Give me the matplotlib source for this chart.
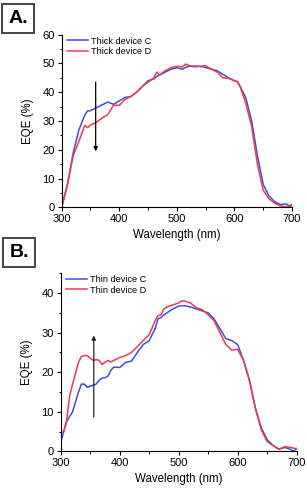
import matplotlib
matplotlib.use('Agg')
import matplotlib.pyplot as plt

plt.rcParams['font.family'] = ['Liberation Sans', 'DejaVu Sans']

# panel A: thick devices
wl_thick = [300, 310, 320, 330, 340, 345, 350, 360, 370, 380, 390, 400, 410, 420, 430,
            440, 450, 460, 465, 470, 480, 490, 500, 510, 515, 520, 530, 540, 550, 560,
            570, 580, 590, 600, 605, 610, 620, 630, 640, 650, 660, 670, 680, 690, 695, 700]
thick_c = [0, 8, 19, 27, 32, 33.5, 33.6, 34.6, 35.6, 36.6, 35.8, 37.0, 38.2, 38.5, 40.0,
           42.0, 44.0, 44.6, 45.5, 46.0, 47.0, 48.0, 48.5, 48.0, 48.6, 49.0, 49.1, 49.0, 48.6, 48.0,
           47.5, 46.2, 45.0, 44.0, 43.6, 42.0, 38.0, 30.0, 18.0, 8.0, 4.0, 2.0, 1.0, 1.2, 0.5, 1.0]
thick_d = [0, 8, 18, 23, 28.5, 27.7, 28.6, 29.5, 31.0, 32.2, 35.5, 35.4, 37.5, 38.5, 40.0,
           42.0, 43.5, 45.0, 47.0, 46.0, 47.5, 48.5, 49.0, 48.8, 49.8, 49.4, 48.8, 49.0, 49.2, 48.0,
           47.0, 45.0, 44.8, 44.0, 43.8, 42.0, 36.0, 28.0, 15.0, 6.0, 3.0, 1.5, 0.5, 0.2, 0.3, 0.5]

# panel B: thin devices
wl_thin = [300, 305, 310, 315, 320, 330, 335, 340, 345, 350, 355, 360, 365, 370, 375, 380,
           385, 390, 400, 410, 420, 430, 440, 450, 460, 465, 470, 475, 480, 490, 500, 505,
           510, 520, 530, 540, 550, 560, 570, 580, 590, 600, 610, 620, 630, 640, 650, 660,
           670, 680, 690, 695, 700]
thin_c = [2.5, 5.0, 7.5, 8.8, 10.0, 15.0, 17.0, 17.0, 16.2, 16.5, 16.7, 17.0, 18.0, 18.5, 18.6, 19.0,
          20.5, 21.3, 21.2, 22.5, 22.8, 25.0, 27.0, 28.0, 31.0, 33.5, 33.8, 34.5, 35.0, 36.0, 36.7, 36.8,
          36.8, 36.5, 36.0, 35.5, 35.0, 33.5, 31.0, 28.5, 28.0, 27.0, 23.0, 18.0, 11.0, 6.0, 3.0, 1.5,
          0.6, 1.0, 0.5, 0.0, 0.7]
thin_d = [5.0, 5.0, 8.0, 14.0, 17.0, 22.5, 24.0, 24.2, 24.2, 23.5, 23.0, 23.2, 23.0, 22.0, 22.5, 23.0,
          22.6, 23.0, 23.7, 24.2, 25.0, 26.5, 28.0, 29.5, 33.0, 34.3, 34.5, 36.0, 36.5, 37.0, 37.5, 38.0,
          38.0, 37.5, 36.3, 35.8, 34.5, 33.0, 30.0, 27.0, 25.6, 25.8, 23.0, 18.0, 11.0, 5.5, 2.5, 1.5,
          0.5, 1.2, 1.0, 0.8, 0.7]

blue = '#3b4fdc'
red = '#ee3a52'

fig = plt.figure(figsize=(3.07, 4.88), dpi=100)
ax1 = fig.add_axes([0.201, 0.575, 0.750, 0.354])
ax2 = fig.add_axes([0.198, 0.075, 0.768, 0.365])


def style_axis(ax, ymax, ymajor):
    ax.set_xlim(300, 700)
    ax.set_ylim(0, ymax)
    ax.set_xticks(range(300, 701, 100))
    ax.set_xticks(range(300, 701, 50), minor=True)
    ax.set_yticks(range(0, int(ymax) + 1, ymajor))
    ax.set_yticks(range(0, int(ymax) + 1, ymajor // 2), minor=True)
    ax.spines['top'].set_visible(False)
    ax.spines['right'].set_visible(False)
    for s in ('left', 'bottom'):
        ax.spines[s].set_linewidth(0.8)
    ax.tick_params(which='major', length=3, width=0.8, labelsize=8, pad=2)
    ax.tick_params(which='minor', length=1.8, width=0.7)
    ax.set_xlabel('Wavelength (nm)', fontsize=8.3, labelpad=3)
    ax.set_ylabel('EQE (%)', fontsize=8.3, labelpad=6)


ax1.plot(wl_thick, thick_c, color=blue, lw=1.1, label='Thick device C')
ax1.plot(wl_thick, thick_d, color=red, lw=1.1, label='Thick device D')
style_axis(ax1, 60, 10)
ax1.annotate('', xy=(359, 18.5), xytext=(359, 44.5),
             arrowprops=dict(arrowstyle='-|>', color='black', lw=0.9, mutation_scale=6))
ax1.legend(loc='upper left', frameon=False, fontsize=6.6, handlelength=2.3,
           handletextpad=0.3, labelspacing=0.15, borderaxespad=0.2,
           bbox_to_anchor=(0.0, 1.02))

ax2.plot(wl_thin, thin_c, color=blue, lw=1.1, label='Thin device C')
ax2.plot(wl_thin, thin_d, color=red, lw=1.1, label='Thin device D')
style_axis(ax2, 45, 10)
ax2.set_yticks(range(0, 41, 10))
ax2.set_yticks(range(0, 46, 5), minor=True)
ax2.annotate('', xy=(356, 30), xytext=(356, 8),
             arrowprops=dict(arrowstyle='-|>', color='#222222', lw=0.9, mutation_scale=6))
ax2.legend(loc='upper left', frameon=False, fontsize=6.6, handlelength=2.3,
           handletextpad=0.3, labelspacing=0.15, borderaxespad=0.2,
           bbox_to_anchor=(0.0, 1.02))

box = dict(boxstyle='square,pad=0.3', facecolor='white', edgecolor='#444444', lw=1.4)
fig.text(0.059, 0.962, 'A.', fontsize=14, fontweight='bold', ha='center', va='center', bbox=box)
fig.text(0.062, 0.482, 'B.', fontsize=14, fontweight='bold', ha='center', va='center', bbox=box)

fig.savefig('out.png', dpi=100)
